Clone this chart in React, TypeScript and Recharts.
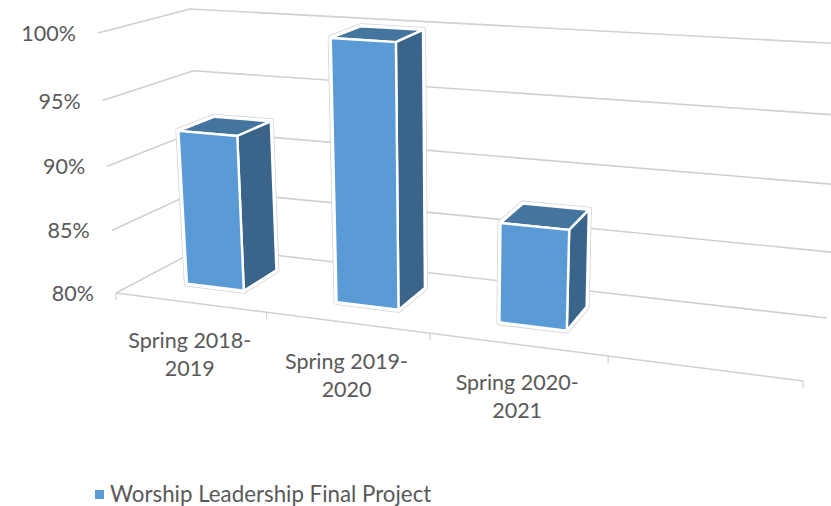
import React from 'react';
import { BarChart, Bar, XAxis, YAxis, CartesianGrid, Legend } from 'recharts';

const categories = ['Spring 2018-2019', 'Spring 2019-2020', 'Spring 2020-2021', ''];
const values = [92.2, 100, 87.5, null];
const valueTicks = [80, 85, 90, 95, 100];
const seriesName = 'Worship Leadership Final Project';

const chartData = categories.map((name, i) => ({ name, value: values[i] }));

const W = 831;
const H = 506;
// the flat plot rect recharts works in; project() bends it into the 3d box
const yAxisWidth = 116;
const xAxisHeight = 30;
const margin = { left: 0, right: 28, top: 33, bottom: 183 };
const plotLeft = margin.left + yAxisWidth;
const plotW = W - plotLeft - margin.right;
const plotH = H - margin.top - margin.bottom - xAxisHeight;
const plotBottom = H - margin.bottom - xAxisHeight;

// box corners, f = front, b = back, l/r, d = floor, u = top
type Pt = [number, number];
const fld: Pt = [116, 293];
const frd: Pt = [803, 381];
const bld: Pt = [203, 247];
const brd: Pt = [827, 318];
const flu: Pt = [98, 33];
const fru: Pt = [824, 81];
const blu: Pt = [190, 9];
const bru: Pt = [844, 44];

const warp = (a: number, k: number) => (a * k) / (1 - a + a * k);
const mix = (p: Pt, q: Pt, a: number): Pt => [p[0] + (q[0] - p[0]) * a, p[1] + (q[1] - p[1]) * a];

function project(t: number, v: number, d: number): Pt {
  const u = warp(t, 0.842);
  const h = warp(v, 0.95);
  const floor = mix(mix(fld, frd, u), mix(bld, brd, u), d);
  const roof = mix(mix(flu, fru, u), mix(blu, bru, u), d);
  return mix(floor, roof, h);
}

const toPoints = (pts: Pt[]) => pts.map((p) => `${p[0].toFixed(1)},${p[1].toFixed(1)}`).join(' ');

const barFront = 0.32;
const barBack = 0.74;

function Bar3D(props: any) {
  const { x, y, width } = props;
  if (y == null || !width) return null;
  const t0 = (x - plotLeft) / plotW;
  const t1 = (x + width - plotLeft) / plotW;
  const v = (plotBottom - y) / plotH;
  const p = project;

  const front = [p(t0, v, barFront), p(t1, v, barFront), p(t1, 0, barFront), p(t0, 0, barFront)];
  const side = [p(t1, v, barFront), p(t1, v, barBack), p(t1, 0, barBack), p(t1, 0, barFront)];
  const top = [p(t0, v, barFront), p(t0, v, barBack), p(t1, v, barBack), p(t1, v, barFront)];
  const outline = [p(t0, v, barFront), p(t0, v, barBack), p(t1, v, barBack), p(t1, 0, barBack), p(t1, 0, barFront), p(t0, 0, barFront)];

  return (
    <g>
      <polygon points={toPoints(outline)} fill="#fff" stroke="#d4d4d4" strokeWidth={6} strokeLinejoin="round" />
      <polygon points={toPoints(outline)} fill="#fff" stroke="#fff" strokeWidth={4.4} strokeLinejoin="round" />
      <polygon points={toPoints(top)} fill="#44759F" stroke="#fff" strokeWidth={2.4} strokeLinejoin="round" />
      <polygon points={toPoints(side)} fill="#3A648A" stroke="#fff" strokeWidth={2.4} strokeLinejoin="round" />
      <polygon points={toPoints(front)} fill="#5B9BD5" stroke="#fff" strokeWidth={2.4} strokeLinejoin="round" />
    </g>
  );
}

function WallLine(props: any) {
  const v = (plotBottom - props.y1) / plotH;
  const pts = [project(0, v, 0), project(0, v, 1), project(1, v, 1)];
  return <polyline key={props.key} points={toPoints(pts)} fill="none" stroke="#d0d0d0" strokeWidth={1.6} />;
}

function ValueTick(props: any) {
  const { y, payload } = props;
  const v = (plotBottom - y) / plotH;
  const [px, py] = project(0, v, 0);
  return (
    <text x={px - 22} y={py} dy={8} textAnchor="end" fontSize={21.5} fill="#595959" fontFamily="Lato">
      {payload.value}%
    </text>
  );
}

function CategoryTick(props: any) {
  const { payload, index } = props;
  const n = categories.length;
  const a = project(index / n, 0, 0);
  const b = project((index + 1) / n, 0, 0);
  const c = project((index + 0.5) / n, 0, 0);
  const label = String(payload.value ?? '');
  const cut = label.indexOf('-') + 1;
  const lines = label ? [label.slice(0, cut), label.slice(cut)] : [];
  return (
    <g>
      <line x1={a[0]} y1={a[1]} x2={b[0]} y2={b[1]} stroke="#d0d0d0" strokeWidth={1.6} />
      {index === 0 && <line x1={a[0]} y1={a[1]} x2={a[0]} y2={a[1] + 7} stroke="#d0d0d0" strokeWidth={1.2} />}
      <line x1={b[0]} y1={b[1]} x2={b[0]} y2={b[1] + 7} stroke="#d0d0d0" strokeWidth={1.2} />
      {lines.map((line, i) => (
        <text key={i} x={c[0]} y={c[1] + 46 + i * 28} textAnchor="middle" fontSize={21.5} fill="#595959" fontFamily="Lato">
          {line}
        </text>
      ))}
    </g>
  );
}

export default function App() {
  return (
    <div style={{ position: 'absolute', left: 0, top: 0, width: W, height: H, background: '#fff' }}>
      <BarChart width={W} height={H} data={chartData} margin={margin} barSize={67}>
        <CartesianGrid vertical={false} horizontal={WallLine as any} />
        <XAxis dataKey="name" height={xAxisHeight} interval={0} axisLine={false} tickLine={false} tick={CategoryTick as any} />
        <YAxis
          type="number"
          domain={[80, 100]}
          ticks={valueTicks}
          width={yAxisWidth}
          axisLine={false}
          tickLine={false}
          tick={ValueTick as any}
        />
        <Legend
          layout="horizontal"
          align="center"
          verticalAlign="middle"
          iconType="square"
          iconSize={9}
          formatter={(value) => (
            <span style={{ color: '#595959', fontSize: 22.3, fontFamily: 'Lato', marginLeft: 2, position: 'relative', top: 4 }}>
              {value}
            </span>
          )}
          wrapperStyle={{ left: 95, top: 476, width: 'auto' }}
        />
        <Bar dataKey="value" name={seriesName} fill="#5B9BD5" shape={Bar3D} isAnimationActive={false} />
      </BarChart>
    </div>
  );
}
